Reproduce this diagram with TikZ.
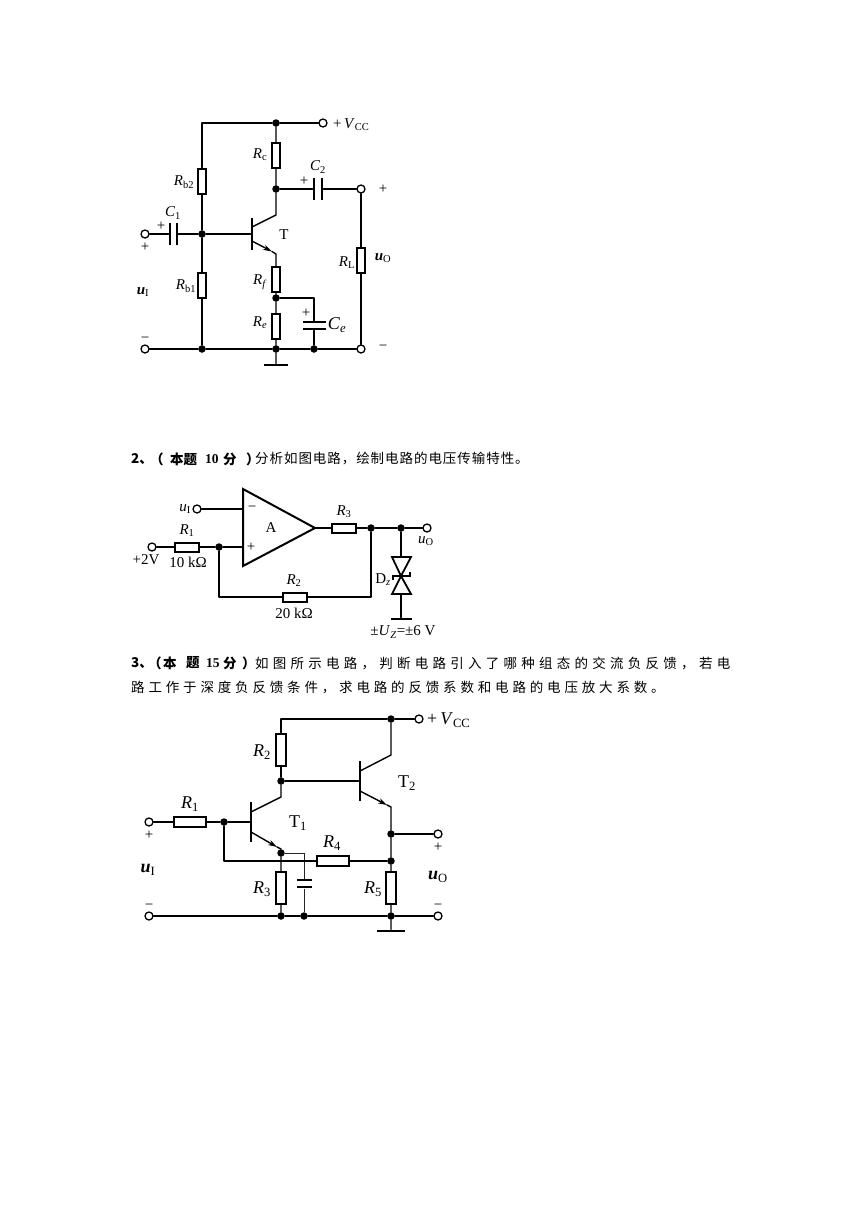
\documentclass[tikz,border=0pt]{standalone}
\usepackage{fontspec}
\setmainfont{Liberation Serif}
\newfontfamily\cjk{Noto Sans CJK SC}
\newfontfamily\cjkA[LetterSpace=31.5]{Noto Sans CJK SC}
\newfontfamily\cjkB[LetterSpace=28.4]{Noto Sans CJK SC}
\usetikzlibrary{arrows.meta}
\newcommand{\sz}[1]{\fontsize{#1}{#1}\selectfont}
\newcommand{\vr}[2]{\textit{#1}\textsubscript{#2}}
\tikzset{
  wire/.style={line width=1.4pt,line cap=round,line join=round},
  thinwire/.style={line width=1pt,draw=black!85},
  resh/.style={draw,line width=2pt,minimum width=24pt,minimum height=9pt,inner sep=0pt,fill=white},
  resv/.style={draw,line width=2pt,minimum width=8.5pt,minimum height=25pt,inner sep=0pt,fill=white},
  resH/.style={resh,minimum width=32pt,minimum height=10pt},
  resV/.style={resv,minimum width=10pt,minimum height=32pt},
  dot/.style={circle,fill=black,minimum size=7.5pt,inner sep=0pt},
  term/.style={circle,draw,line width=1.3pt,fill=white,minimum size=8pt,inner sep=0pt},
  platev/.style={fill=black,minimum width=2.6pt,minimum height=#1,inner sep=0pt},
  plateh/.style={fill=black,minimum height=2.6pt,minimum width=#1,inner sep=0pt},
  lab/.style={font=\sz{15},inner sep=0pt},
  labb/.style={font=\sz{18},inner sep=0pt},
  txt/.style={anchor=west,inner sep=0pt,font=\sz{13.5}},
  emit/.style={wire,-{Stealth[length=9pt,width=5.5pt]}}
}
\begin{document}
\begin{tikzpicture}[x=1pt,y=-1pt]
\useasboundingbox (0,0) rectangle (865,1224);
\fill[white] (0,0) rectangle (865,1224);

% ---------- circuit 1
\node[dot] (a1) at (276,123) {};
\coordinate (a0) at (202,123);
\node[term] (aV) at (323,123) {};
\node[resv] (Rc) at (276,155.5) {};
\node[dot] (a2) at (276,189) {};
\node[platev=22pt] (C2a) at (314,189) {};
\node[platev=22pt] (C2b) at (322,189) {};
\node[term] (aOut) at (361,189) {};
\node[resv] (Rb2) at (202,181) {};
\node[dot] (a3) at (202,234) {};
\node[platev=22pt] (C1b) at (177,234) {};
\node[platev=22pt] (C1a) at (170,234) {};
\node[term] (aIn) at (145,234) {};
\node[platev=32pt] (Ta) at (252,234) {};
\coordinate (Tc0) at (252,227);
\coordinate (Tc1) at (276,215);
\coordinate (Te0) at (252,241);
\coordinate (Tet) at (272,251.5);
\coordinate (Te1) at (276,254);
\node[resv] (Rf) at (276,279.5) {};
\node[dot] (a4) at (276,298) {};
\node[resv] (Re) at (276,326.5) {};
\node[dot] (a5) at (276,349) {};
\node[plateh=24pt] (gA) at (276,365) {};
\node[resv] (Rb1) at (202,285.5) {};
\node[dot] (a6) at (202,349) {};
\node[dot] (a7) at (314,349) {};
\node[term] (aInG) at (145,349) {};
\node[term] (aOutG) at (361,349) {};
\coordinate (a8) at (314,298);
\node[plateh=23pt] (Cea) at (314,322) {};
\node[plateh=23pt] (Ceb) at (314,329) {};
\node[resv] (RL) at (361,260.5) {};

\draw[wire] (a0) -- (a1) -- (aV);
\draw[wire] (a0) -- (Rb2) -- (a3) -- (Rb1) -- (a6);
\draw[wire] (a1) -- (Rc) -- (a2) -- (Tc1) -- (Tc0);
\draw[wire] (a2) -- (C2a);
\draw[wire] (C2b) -- (aOut) -- (RL) -- (aOutG);
\draw[wire] (aIn) -- (C1a);
\draw[wire] (C1b) -- (a3) -- (Ta);
\draw[emit] (Te0) -- (Tet);
\draw[wire] (Tet) -- (Te1) -- (Rf) -- (a4) -- (Re) -- (a5) -- (gA);
\draw[wire] (a4) -- (a8) -- (Cea);
\draw[wire] (Ceb) -- (a7);
\draw[wire] (aInG) -- (a6) -- (a5) -- (a7) -- (aOutG);

\node[lab] (t1) at (260,155) {\vr{R}{c}};
\node[lab] (t2) at (184,182) {\vr{R}{b2}};
\node[lab] (t3) at (186,286) {\vr{R}{b1}};
\node[lab] (t4) at (260,282) {\vr{R}{\textit{f}}};
\node[lab] (t5) at (260,323) {\vr{R}{\textit{e}}};
\node[labb] (t6) at (337,325) {\vr{C}{\textit{e}}};
\node[lab] (t7) at (318,167) {\vr{C}{2}};
\node[lab] (t8) at (173,213) {\vr{C}{1}};
\node[lab] (t9) at (284,235) {T};
\node[lab] (t10) at (347,263) {\vr{R}{L}};
\node[lab] (t11) at (383,258) {\textbf{\textit{u}}\textsubscript{O}};
\node[lab] (t12) at (143,292) {\textbf{\textit{u}}\textsubscript{I}};
\node[lab,anchor=west] (t13) at (333,125) {+\,\textit{V}\textsubscript{CC}};
\node[lab] (t14) at (383,189) {+};
\node[lab] (t15) at (383,348) {−};
\node[lab] (t16) at (145,340) {−};
\node[lab] (t17) at (161,226) {+};
\node[lab] (t18) at (145,247) {+};
\node[lab] (t19) at (304,181) {+};
\node[lab] (t20) at (306,313) {+};

% ---------- text
\node[txt] (l1a) at (131,459) {\cjk\bfseries 2、};
\node[txt] (l1b) at (150,459) {\cjk\bfseries （};
\node[txt] (l1c) at (170,459) {\cjk\bfseries 本题};
\node[txt] (l1d) at (205,459) {\bfseries 10};
\node[txt] (l1e) at (223,459) {\cjk\bfseries 分};
\node[txt] (l1f) at (246,459) {\cjk\bfseries ）};
\node[txt] (l1g) at (255,459) {\cjk\addfontfeature{LetterSpace=7}分析如图电路，绘制电路的电压传输特性。};
\node[txt] (l2a) at (131,663) {\cjk\bfseries 3、};
\node[txt] (l2b) at (148,663) {\cjk\bfseries （};
\node[txt] (l2c) at (163,663) {\cjk\bfseries 本};
\node[txt] (l2d) at (186,663) {\cjk\bfseries 题};
\node[txt] (l2e) at (206,663) {\bfseries 15};
\node[txt] (l2f) at (223,663) {\cjk\bfseries 分};
\node[txt] (l2h) at (242,663) {\cjk\bfseries ）};
\node[txt] (l2g) at (255,663) {\cjkA 如图所示电路，判断电路引入了哪种组态的交流负反馈，若电};
\node[txt] (l3) at (131,688) {\cjkB 路工作于深度负反馈条件，求电路的反馈系数和电路的电压放大系数。};

% ---------- circuit 2
\coordinate (Oa) at (243,489);
\coordinate (Ob) at (243,566);
\coordinate (Oc) at (315,528);
\draw[line width=2pt,line join=miter] (Oa) -- (Oc) -- (Ob) -- cycle;
\coordinate (Om) at (243,509);
\coordinate (Op) at (243,547);
\node[term] (bU) at (197,509) {};
\node[term] (b2V) at (152,547) {};
\node[resh] (bR1) at (187,547) {};
\node[dot] (b1) at (219,547) {};
\node[resh] (bR3) at (344,528) {};
\node[dot] (b2) at (371,528) {};
\node[dot] (b3) at (401,528) {};
\node[term] (bOut) at (427,528) {};
\coordinate (b4) at (219,597);
\coordinate (b5) at (371,597);
\node[resh] (bR2) at (295,597) {};
\coordinate (Za) at (401,557);
\coordinate (Zm) at (401,576);
\coordinate (Zb) at (401,594);
\coordinate (Zal) at (392,557);
\coordinate (Zar) at (411,557);
\coordinate (Zbl) at (392,594);
\coordinate (Zbr) at (411,594);
\coordinate (Zkl) at (393,580);
\coordinate (Zkl2) at (393,576);
\coordinate (Zkr) at (410,576);
\coordinate (Zkr2) at (410,572);
\node[plateh=21pt] (gB) at (401,619) {};

\draw[wire] (bU) -- (Om);
\draw[wire] (b2V) -- (bR1) -- (b1) -- (Op);
\draw[wire] (Oc) -- (bR3) -- (b2) -- (b3) -- (bOut);
\draw[wire] (b1) -- (b4) -- (bR2) -- (b5) -- (b2);
\draw[wire] (b3) -- (Za);
\draw[wire] (Zb) -- (gB);
\draw[line width=1.8pt,line join=miter] (Zal) -- (Zar) -- (Zm) -- cycle;
\draw[line width=1.8pt,line join=miter] (Zbl) -- (Zbr) -- (Zm) -- cycle;
\draw[line width=1.8pt] (Zkl) -- (Zkl2) -- (Zkr) -- (Zkr2);

\node[lab] (s1) at (252,509) {−};
\node[lab] (s2) at (251,547) {+};
\node[lab] (s3) at (185,509) {\vr{u}{I}};
\node[lab] (s4) at (187,531) {\vr{R}{1}};
\node[lab] (s5) at (188,562) {10 kΩ};
\node[lab] (s6) at (146,560) {+2V};
\node[lab] (s7) at (271,528) {A};
\node[lab] (s8) at (344,512) {\vr{R}{3}};
\node[lab] (s9) at (426,541) {\vr{u}{O}};
\node[lab] (s10) at (383,580) {D\textsubscript{\textit{z}}};
\node[lab] (s11) at (294,581) {\vr{R}{2}};
\node[lab] (s12) at (294,613) {20 kΩ};
\node[lab] (s13) at (403,632) {±\textit{U}\textsubscript{\textit{Z}}=±6 V};

% ---------- circuit 3
\coordinate (c0) at (281,719);
\node[dot] (c1) at (391,719) {};
\node[term] (cV) at (419,719) {};
\node[resV] (cR2) at (281,749.5) {};
\node[dot] (c2) at (281,781) {};
\node[platev=40pt] (T2b) at (360,781) {};
\coordinate (T2c0) at (360,771);
\coordinate (T2c1) at (391,755);
\coordinate (T2e0) at (360,791);
\coordinate (T2et) at (387,805);
\coordinate (T2e1) at (391,807);
\node[dot] (c3) at (391,834) {};
\node[term] (cOut) at (438,834) {};
\node[dot] (c4) at (391,861) {};
\node[resV] (cR5) at (391,888) {};
\node[dot] (c5) at (391,916) {};
\node[plateh=28pt] (gC) at (391,931) {};
\coordinate (T1c1) at (281,797);
\node[platev=40pt] (T1b) at (251,822) {};
\coordinate (T1c0) at (251,812);
\coordinate (T1e0) at (251,832);
\coordinate (T1et) at (277,847);
\coordinate (T1e1) at (281,849);
\node[dot] (c6) at (281,853) {};
\node[resV] (cR3) at (281,888) {};
\node[dot] (c7) at (281,916) {};
\coordinate (c8) at (304,853);
\node[plateh=15pt] (cCa) at (304,880) {};
\node[plateh=15pt] (cCb) at (304,887) {};
\node[dot] (c9) at (304,916) {};
\node[resH] (cR4) at (333,861) {};
\node[dot] (c10) at (224,822) {};
\coordinate (c11) at (224,861);
\node[resH] (cR1) at (190,822) {};
\node[term] (cIn) at (149,822) {};
\node[term] (cInG) at (149,916) {};
\node[term] (cOutG) at (438,916) {};

\draw[wire] (c0) -- (c1) -- (cV);
\draw[wire] (c0) -- (cR2) -- (c2) -- (T2b);
\draw[wire] (c1) -- (T2c1) -- (T2c0);
\draw[emit] (T2e0) -- (T2et);
\draw[wire] (T2et) -- (T2e1) -- (c3) -- (c4) -- (cR5) -- (c5) -- (gC);
\draw[wire] (c3) -- (cOut);
\draw[wire] (c2) -- (T1c1) -- (T1c0);
\draw[emit] (T1e0) -- (T1et);
\draw[wire] (T1et) -- (T1e1) -- (c6) -- (cR3) -- (c7);
\draw[thinwire] (c6) -- (c8) -- (cCa);
\draw[thinwire] (cCb) -- (c9);
\draw[wire] (cIn) -- (cR1) -- (c10) -- (T1b);
\draw[wire] (c10) -- (c11) -- (cR4) -- (c4);
\draw[wire] (cInG) -- (c7) -- (c9) -- (c5) -- (cOutG);

\node[labb] (r1) at (262,752) {\vr{R}{2}};
\node[labb] (r2) at (190,804) {\vr{R}{1}};
\node[labb] (r3) at (298,823) {T\textsubscript{1}};
\node[labb] (r4) at (407,783) {T\textsubscript{2}};
\node[labb] (r5) at (332,843) {\vr{R}{4}};
\node[labb] (r6) at (262,889) {\vr{R}{3}};
\node[labb] (r7) at (373,889) {\vr{R}{5}};
\node[labb] (r8) at (148,870) {\textbf{\textit{u}}\textsubscript{I}};
\node[labb] (r9) at (438,877) {\textbf{\textit{u}}\textsubscript{O}};
\node[lab] (r10) at (149,835) {+};
\node[lab] (r11) at (438,847) {+};
\node[lab] (r12) at (149,907) {−};
\node[lab] (r13) at (438,907) {−};
\node[labb,anchor=west] (r14) at (427,720) {+\,\textit{V}\textsubscript{CC}};
\end{tikzpicture}
\end{document}
